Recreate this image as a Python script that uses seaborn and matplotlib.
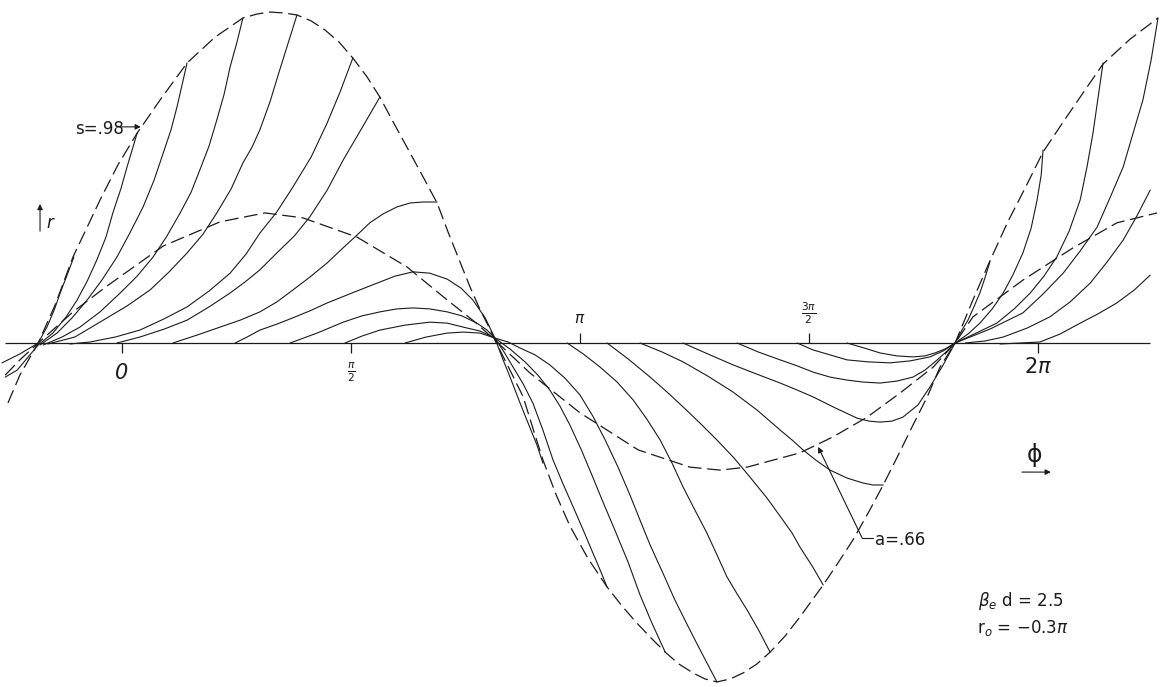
import numpy as np
import pandas as pd
import matplotlib
matplotlib.use("Agg")
import matplotlib.pyplot as plt
import seaborn as sns

# phase axis is phi/pi, r is normalised to the peak of the s=.98 envelope

# ---- envelopes (dashed) ----
env_s98 = [(-0.249, -0.181), (-0.223, -0.097), (-0.183, 0.0), (-0.146, 0.115), (-0.107, 0.260),
           (-0.048, 0.432), (-0.009, 0.538), (0.033, 0.634), (0.083, 0.734), (0.142, 0.846),
           (0.203, 0.924), (0.264, 0.982), (0.295, 0.994), (0.323, 1.000), (0.354, 0.997),
           (0.382, 0.991), (0.413, 0.973), (0.443, 0.946), (0.474, 0.909), (0.504, 0.861),
           (0.535, 0.804), (0.563, 0.743), (0.592, 0.668), (0.622, 0.592), (0.655, 0.508),
           (0.688, 0.423), (0.712, 0.335), (0.738, 0.245), (0.760, 0.169), (0.782, 0.100),
           (0.799, 0.054), (0.814, 0.009), (0.845, -0.076), (0.876, -0.163), (0.897, -0.257),
           (0.919, -0.353), (0.948, -0.459), (0.978, -0.553), (1.017, -0.650), (1.059, -0.737),
           (1.092, -0.795), (1.124, -0.846), (1.155, -0.891), (1.186, -0.934), (1.216, -0.970),
           (1.247, -0.997), (1.273, -1.015), (1.299, -1.024), (1.328, -1.015), (1.356, -0.997),
           (1.386, -0.970), (1.415, -0.934), (1.448, -0.885), (1.480, -0.828), (1.531, -0.731),
           (1.563, -0.665), (1.596, -0.595), (1.629, -0.514), (1.662, -0.429), (1.694, -0.341),
           (1.727, -0.248), (1.758, -0.163), (1.786, -0.073), (1.819, 0.0), (1.856, 0.124),
           (1.895, 0.248), (1.934, 0.366), (1.974, 0.474), (2.011, 0.577), (2.055, 0.668),
           (2.098, 0.755), (2.142, 0.843), (2.201, 0.918), (2.262, 0.982)]

env_a66 = [(-0.255, -0.097), (-0.223, -0.051), (-0.183, 0.0), (-0.107, 0.094), (-0.033, 0.172),
           (0.090, 0.293), (0.214, 0.366), (0.312, 0.393), (0.395, 0.378), (0.513, 0.320),
           (0.622, 0.230), (0.710, 0.130), (0.771, 0.063), (0.814, 0.009), (0.891, -0.091),
           (1.000, -0.211), (1.127, -0.323), (1.240, -0.375), (1.306, -0.384), (1.365, -0.375),
           (1.480, -0.332), (1.552, -0.284), (1.627, -0.224), (1.699, -0.151), (1.771, -0.073),
           (1.819, 0.0), (1.858, 0.079), (1.967, 0.190), (2.076, 0.287), (2.172, 0.363),
           (2.260, 0.393)]

# ---- trajectories (solid) ----
traj_1 = [(-0.262, -0.060), (-0.223, -0.033), (-0.183, 0.0), (-0.164, 0.048), (-0.148, 0.100),
          (-0.135, 0.151), (-0.120, 0.205), (-0.105, 0.260)]
traj_2 = [(-0.255, -0.103), (-0.229, -0.082), (-0.183, -0.006), (-0.151, 0.030), (-0.122, 0.079),
          (-0.098, 0.130), (-0.076, 0.187), (-0.055, 0.251), (-0.035, 0.320), (-0.020, 0.393),
          (-0.002, 0.468), (0.011, 0.532), (0.022, 0.583), (0.033, 0.634)]
traj_3 = [(-0.179, -0.006), (-0.142, 0.030), (-0.109, 0.076), (-0.076, 0.130), (-0.044, 0.190),
          (-0.011, 0.260), (0.017, 0.332), (0.046, 0.411), (0.070, 0.492), (0.090, 0.574),
          (0.107, 0.644), (0.120, 0.713), (0.131, 0.779), (0.142, 0.846)]
traj_4 = [(-0.172, -0.006), (-0.131, 0.018), (-0.092, 0.048), (-0.048, 0.094), (-0.004, 0.151),
          (0.033, 0.202), (0.068, 0.260), (0.098, 0.323), (0.127, 0.393), (0.151, 0.456),
          (0.170, 0.523), (0.190, 0.595), (0.207, 0.674), (0.223, 0.752), (0.236, 0.834),
          (0.251, 0.909), (0.264, 0.982)]
traj_5 = [(-0.162, -0.003), (-0.103, 0.018), (-0.041, 0.069), (0.011, 0.112), (0.061, 0.160),
          (0.103, 0.215), (0.142, 0.272), (0.177, 0.329), (0.207, 0.393), (0.238, 0.465),
          (0.264, 0.544), (0.284, 0.592), (0.301, 0.644), (0.323, 0.728), (0.341, 0.810),
          (0.362, 0.903), (0.382, 0.991)]
traj_6 = [(-0.114, -0.003), (-0.070, 0.003), (-0.015, 0.018), (0.039, 0.039), (0.092, 0.073),
          (0.142, 0.109), (0.190, 0.157), (0.236, 0.211), (0.271, 0.269), (0.301, 0.332),
          (0.338, 0.396), (0.373, 0.471), (0.413, 0.562), (0.448, 0.665), (0.476, 0.758),
          (0.504, 0.861)]
traj_7 = [(-0.011, 0.0), (0.039, 0.018), (0.092, 0.042), (0.142, 0.069), (0.190, 0.109),
          (0.236, 0.151), (0.271, 0.187), (0.301, 0.221), (0.338, 0.272), (0.376, 0.323),
          (0.410, 0.381), (0.448, 0.462), (0.483, 0.553), (0.524, 0.650), (0.563, 0.743)]
traj_8 = [(0.111, 0.0), (0.164, 0.024), (0.214, 0.048), (0.258, 0.069), (0.301, 0.094),
          (0.338, 0.124), (0.373, 0.160), (0.410, 0.199), (0.448, 0.242), (0.480, 0.284),
          (0.513, 0.326), (0.541, 0.363), (0.570, 0.390), (0.600, 0.411), (0.629, 0.423),
          (0.657, 0.426), (0.688, 0.426)]
traj_9 = [(0.247, 0.0), (0.273, 0.018), (0.301, 0.039), (0.338, 0.057), (0.373, 0.076),
          (0.410, 0.097), (0.448, 0.121), (0.502, 0.151), (0.557, 0.181), (0.596, 0.202),
          (0.635, 0.215), (0.672, 0.211), (0.710, 0.193), (0.740, 0.166), (0.766, 0.130),
          (0.793, 0.076), (0.814, 0.015), (0.832, -0.051), (0.843, -0.088), (0.854, -0.127),
          (0.869, -0.181), (0.884, -0.233), (0.906, -0.308), (0.919, -0.363)]
traj_10 = [(0.367, 0.0), (0.426, 0.030), (0.483, 0.063), (0.524, 0.082), (0.563, 0.094),
           (0.600, 0.103), (0.635, 0.106), (0.672, 0.103), (0.710, 0.094), (0.742, 0.082),
           (0.775, 0.060), (0.797, 0.039), (0.814, 0.015), (0.834, -0.027), (0.854, -0.073),
           (0.876, -0.124), (0.897, -0.181), (0.919, -0.263), (0.941, -0.353), (0.963, -0.426),
           (0.985, -0.495), (1.007, -0.565), (1.028, -0.634), (1.044, -0.686), (1.059, -0.737)]
traj_11 = [(0.487, 0.0), (0.524, 0.021), (0.563, 0.039), (0.618, 0.054), (0.672, 0.063),
           (0.710, 0.060), (0.745, 0.048), (0.782, 0.036), (0.814, 0.015), (0.847, -0.018),
           (0.880, -0.057), (0.908, -0.097), (0.934, -0.142), (0.956, -0.190), (0.978, -0.248),
           (1.002, -0.320), (1.026, -0.399), (1.050, -0.480), (1.076, -0.565), (1.105, -0.662),
           (1.131, -0.761), (1.157, -0.846), (1.186, -0.934)]
traj_12 = [(0.618, 0.0), (0.664, 0.018), (0.710, 0.030), (0.745, 0.033), (0.782, 0.030),
           (0.814, 0.015), (0.843, 0.003), (0.869, -0.015), (0.902, -0.036), (0.934, -0.066),
           (0.967, -0.106), (1.000, -0.157), (1.028, -0.221), (1.055, -0.293), (1.083, -0.375),
           (1.109, -0.459), (1.131, -0.535), (1.153, -0.610), (1.181, -0.695), (1.207, -0.776),
           (1.229, -0.837), (1.251, -0.897), (1.275, -0.961), (1.299, -1.024)]
traj_13 = [(0.972, 0.0), (1.007, -0.033), (1.044, -0.073), (1.081, -0.118), (1.116, -0.172),
           (1.146, -0.230), (1.175, -0.293), (1.201, -0.363), (1.225, -0.435), (1.251, -0.505),
           (1.277, -0.574), (1.299, -0.640), (1.321, -0.707), (1.343, -0.758), (1.365, -0.807),
           (1.391, -0.870), (1.415, -0.934)]
traj_14 = [(1.059, 0.0), (1.105, -0.048), (1.153, -0.103), (1.190, -0.148), (1.225, -0.193),
           (1.262, -0.242), (1.299, -0.293), (1.336, -0.347), (1.371, -0.405), (1.408, -0.468),
           (1.443, -0.535), (1.463, -0.574), (1.480, -0.616), (1.507, -0.674), (1.531, -0.731)]
traj_15 = [(1.131, 0.0), (1.179, -0.027), (1.225, -0.057), (1.279, -0.100), (1.334, -0.148),
           (1.386, -0.202), (1.437, -0.263), (1.463, -0.293), (1.487, -0.323), (1.517, -0.356),
           (1.546, -0.384), (1.583, -0.408), (1.618, -0.423), (1.640, -0.429), (1.662, -0.429)]
traj_16 = [(1.225, 0.0), (1.279, -0.033), (1.334, -0.066), (1.386, -0.094), (1.437, -0.121),
           (1.474, -0.142), (1.509, -0.163), (1.557, -0.196), (1.605, -0.227), (1.631, -0.236),
           (1.655, -0.239), (1.681, -0.236), (1.705, -0.224), (1.738, -0.187), (1.764, -0.133),
           (1.793, -0.066), (1.819, 0.0), (1.834, 0.039), (1.847, 0.069), (1.860, 0.109),
           (1.873, 0.151), (1.884, 0.196), (1.895, 0.245)]
traj_17 = [(1.343, 0.0), (1.389, -0.027), (1.437, -0.051), (1.474, -0.069), (1.509, -0.088),
           (1.546, -0.103), (1.583, -0.112), (1.618, -0.118), (1.655, -0.121), (1.692, -0.115),
           (1.727, -0.103), (1.753, -0.082), (1.775, -0.057), (1.797, -0.030), (1.819, 0.0),
           (1.847, 0.027), (1.873, 0.060), (1.900, 0.103), (1.924, 0.151), (1.945, 0.205),
           (1.967, 0.272), (1.985, 0.347), (1.998, 0.432), (2.007, 0.508), (2.011, 0.583)]
traj_18 = [(1.474, 0.0), (1.509, -0.021), (1.546, -0.036), (1.583, -0.051), (1.629, -0.057),
           (1.677, -0.060), (1.721, -0.054), (1.764, -0.042), (1.793, -0.024), (1.819, 0.0),
           (1.865, 0.030), (1.910, 0.060), (1.948, 0.103), (1.983, 0.151), (2.013, 0.202),
           (2.041, 0.260), (2.068, 0.338), (2.092, 0.432), (2.107, 0.532), (2.120, 0.634),
           (2.131, 0.740), (2.142, 0.846)]
traj_19 = [(1.583, 0.0), (1.620, -0.015), (1.655, -0.030), (1.692, -0.039), (1.727, -0.042),
           (1.753, -0.039), (1.775, -0.030), (1.797, -0.018), (1.819, 0.0), (1.895, 0.042),
           (1.967, 0.091), (2.011, 0.148), (2.055, 0.211), (2.092, 0.278), (2.129, 0.350),
           (2.157, 0.438), (2.186, 0.532), (2.207, 0.631), (2.229, 0.734), (2.247, 0.855),
           (2.262, 0.982)]
traj_20 = [(1.841, 0.0), (1.884, 0.006), (1.924, 0.018), (1.976, 0.045), (2.026, 0.079),
           (2.070, 0.124), (2.114, 0.181), (2.151, 0.245), (2.186, 0.311), (2.216, 0.384),
           (2.245, 0.462)]
traj_21 = [(1.917, -0.003), (1.961, 0.0), (2.004, 0.003), (2.048, 0.027), (2.092, 0.060),
           (2.131, 0.088), (2.172, 0.121), (2.210, 0.160), (2.245, 0.205)]

# ---- phase axis ----
tick_pos = [0.0, 0.5, 1.0, 1.5, 2.0]
tick_side = [-1, -1, 1, 1, -1]
tick_text = ["0", r"$\frac{\pi}{2}$", r"$\pi$", r"$\frac{3\pi}{2}$", r"$2\pi$"]
tick_text_r = [-0.090, -0.088, 0.073, 0.091, -0.073]
tick_text_size = [15, 11, 11, 11, 15]

envelopes = {"s98": env_s98, "a66": env_a66}
trajectories = [traj_1, traj_2, traj_3, traj_4, traj_5, traj_6, traj_7, traj_8, traj_9,
                traj_10, traj_11, traj_12, traj_13, traj_14, traj_15, traj_16, traj_17,
                traj_18, traj_19, traj_20, traj_21]


def frame(curves):
    rows = []
    for name, pts in curves.items():
        for phi, r in pts:
            rows.append({"curve": name, "phi": phi, "r": r})
    return pd.DataFrame(rows)


env_df = frame(envelopes)
traj_df = frame({f"t{i}": t for i, t in enumerate(trajectories, 1)})

sns.set_theme(style="white")
plt.rcParams["font.family"] = ["DejaVu Sans"]
plt.rcParams["mathtext.fontset"] = "dejavusans"

ink = "#1b1b1b"
fig = plt.figure(figsize=(11.7, 6.87), dpi=100)
ax = fig.add_axes([0, 0, 1, 1])

sns.lineplot(data=traj_df, x="phi", y="r", units="curve", estimator=None, sort=False,
             color=ink, linewidth=0.8, legend=False, ax=ax)
sns.lineplot(data=env_df, x="phi", y="r", units="curve", estimator=None, sort=False,
             color=ink, linewidth=0.9, linestyle=(0, (11, 4.5)), legend=False, ax=ax)

ax.set_xlim(-0.2664, 2.2882)
ax.set_ylim(-1.0393, 1.0363)
ax.axis("off")

# phase axis with short ticks
ax.hlines(0.0, -0.255, 2.245, color=ink, lw=0.9)
tick_len = 0.030
for p, side, lab, lr, fs in zip(tick_pos, tick_side, tick_text, tick_text_r, tick_text_size):
    ax.vlines(p, 0.0, side * tick_len, color=ink, lw=0.9)
    style = "italic" if lab == "0" else "normal"
    ax.text(p, lr, lab, ha="center", va="center", fontsize=fs, color=ink, style=style)

arrow = dict(arrowstyle="-|>", color=ink, lw=0.8, mutation_scale=8, shrinkA=0, shrinkB=0)

# envelope labels
ax.text(-0.103, 0.648, "s=.98", ha="left", va="center", fontsize=12, color=ink)
ax.annotate("", xy=(0.041, 0.653), xytext=(-0.009, 0.653), arrowprops=arrow)

ax.annotate("", xy=(1.520, -0.314), xytext=(1.616, -0.589), arrowprops=arrow)
ax.plot([1.616, 1.640], [-0.589, -0.589], color=ink, lw=0.8)
ax.text(1.644, -0.595, "a=.66", ha="left", va="center", fontsize=12, color=ink)

# axis names
ax.annotate("", xy=(-0.179, 0.420), xytext=(-0.179, 0.338), arrowprops=arrow)
ax.text(-0.166, 0.362, "r", ha="left", va="center", fontsize=12, color=ink, style="italic")

ax.text(1.993, -0.338, "ϕ", ha="center", va="center", fontsize=17, color=ink)
ax.annotate("", xy=(2.028, -0.390), xytext=(1.965, -0.390), arrowprops=arrow)

# parameters
ax.text(1.869, -0.779, r"$\beta_e$ d = 2.5", ha="left", va="center", fontsize=12, color=ink)
ax.text(1.867, -0.861, r"r$_o$ = $-$0.3$\pi$", ha="left", va="center", fontsize=12, color=ink)

fig.savefig("out.png", dpi=100, facecolor="white")
